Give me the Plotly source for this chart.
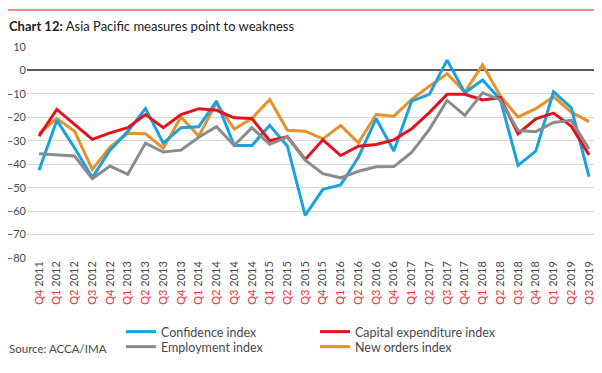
import plotly.graph_objects as go

quarters = ["Q4", "Q1", "Q2", "Q3", "Q4", "Q1", "Q2", "Q3", "Q4", "Q1", "Q2", "Q3", "Q4",
            "Q1", "Q2", "Q3", "Q4", "Q1", "Q2", "Q3", "Q4", "Q1", "Q2", "Q3", "Q4",
            "Q1", "Q2", "Q3", "Q4", "Q1", "Q2", "Q3"]
years = ["2011", "2012", "2012", "2012", "2012", "2013", "2013", "2013", "2013",
         "2014", "2014", "2014", "2014", "2015", "2015", "2015", "2015",
         "2016", "2016", "2016", "2016", "2017", "2017", "2017", "2017",
         "2018", "2018", "2018", "2018", "2019", "2019", "2019"]
categories = [f"{q} {y}" for q, y in zip(quarters, years)]

confidence = [-42.6, -21.3, -33, -45.7, -34, -26, -16.2, -31, -24.4, -24, -13.1, -32, -32,
              -23.4, -32.3, -61.8, -50.7, -48.8, -37, -20.6, -34.4, -13.1, -10.2, 4.4, -9.5,
              -4.1, -12.4, -40.5, -34.4, -9.1, -15.9, -45.3]
capex = [-28, -16.6, -23, -29.4, -26.6, -24.4, -18.8, -24.4, -18.8, -16.3, -17, -20.2, -20.5,
         -30, -28.3, -38, -29.6, -36.3, -32.3, -31.6, -29.6, -24.9, -18, -10.2, -10.2,
         -12.6, -11.6, -27, -20.6, -18.2, -23.8, -36]
employment = [-35.5, -36.1, -36.5, -46.2, -40.8, -44.3, -31, -34.8, -34, -28.5, -24, -32, -24.4,
              -31.5, -28.3, -38.3, -44, -45.8, -43, -41.1, -41, -35, -25.1, -12.8, -19.2,
              -9.5, -12.6, -25.6, -26.1, -22.2, -21.3, -33.5]
new_orders = [-26.8, -20.5, -25.9, -42.2, -32.7, -26.8, -27, -33.2, -19.9, -28, -13.8, -25, -20.5,
              -12.4, -25.5, -25.9, -29.2, -23.5, -30.9, -18.8, -19.5, -12.4, -6.7, -1.4, -9.2,
              2.4, -10.9, -19.9, -16.3, -11.2, -17.8, -21.8]
y_ticks = [10, 0, -10, -20, -30, -40, -50, -60, -70, -80]

FONT = "Lato"
RED_TXT = "#e8333a"
TXT = "#4a4a4a"

# (name, values, colour, legend id)
series = [
    ("New orders index", new_orders, "#e8902a", "legend4"),
    ("Confidence index", confidence, "#1ba1dd", "legend"),
    ("Capital expenditure index", capex, "#e3121b", "legend2"),
    ("Employment index", employment, "#8a8b8c", "legend3"),
]

fig = go.Figure()
for name, vals, color, leg in series:
    fig.add_trace(go.Scatter(
        x=categories, y=vals, mode="lines", name=name,
        line=dict(color=color, width=3), legend=leg,
    ))

ticktext = [f"<span style='color:{RED_TXT}'>{q}</span> {y}" for q, y in zip(quarters, years)]

# page body has an 8px margin; figure is laid out in reference coords minus 8
PH = 211.0
def py(yref):
    return (250 - (yref - 8)) / PH
def px(xref):
    return (xref - 27) / 570.0

leg_common = dict(
    orientation="v", yanchor="top", xanchor="left",
    font=dict(family=FONT, size=12.5, color=TXT),
    itemwidth=30, bgcolor="rgba(0,0,0,0)", tracegroupgap=0,
)

fig.update_layout(
    width=594, height=365,
    margin=dict(l=19, r=5, t=39, b=115),
    paper_bgcolor="white", plot_bgcolor="white",
    font=dict(family=FONT, size=11, color=TXT),
    showlegend=True,
    legend=dict(x=px(121), y=py(317), **leg_common),
    legend2=dict(x=px(315), y=py(317), **leg_common),
    legend3=dict(x=px(121), y=py(332), **leg_common),
    legend4=dict(x=px(315), y=py(332), **leg_common),
    xaxis=dict(
        type="category", categoryorder="array", categoryarray=categories,
        range=[-0.68, 31.45], automargin=False,
        tickmode="array", tickvals=categories, ticktext=ticktext,
        tickangle=-90, tickfont=dict(family=FONT, size=11, color=TXT),
        showgrid=False, zeroline=False, showline=False, ticks="",
    ),
    yaxis=dict(
        range=[-80, 10], tickmode="array", tickvals=y_ticks, automargin=False,
        showgrid=True, gridcolor="#d9d9d9", gridwidth=1,
        zeroline=True, zerolinecolor="#595959", zerolinewidth=1.5,
        showline=False, ticks="",
        tickfont=dict(family=FONT, size=11, color=TXT),
    ),
    annotations=[
        dict(text="<b>Chart 12:</b> Asia Pacific measures point to weakness",
             xref="paper", yref="paper", x=px(7), y=py(26),
             xanchor="left", yanchor="middle", showarrow=False,
             font=dict(family=FONT, size=13, color="#222222")),
        dict(text="Source: ACCA/IMA",
             xref="paper", yref="paper", x=px(7), y=py(348),
             xanchor="left", yanchor="middle", showarrow=False,
             font=dict(family=FONT, size=11.5, color=TXT)),
    ],
    shapes=[
        dict(type="line", xref="paper", yref="paper",
             x0=px(7), x1=px(610), y0=py(10), y1=py(10),
             line=dict(color="#e8646a", width=1.5)),
    ],
)

fig.write_html("out.html")
